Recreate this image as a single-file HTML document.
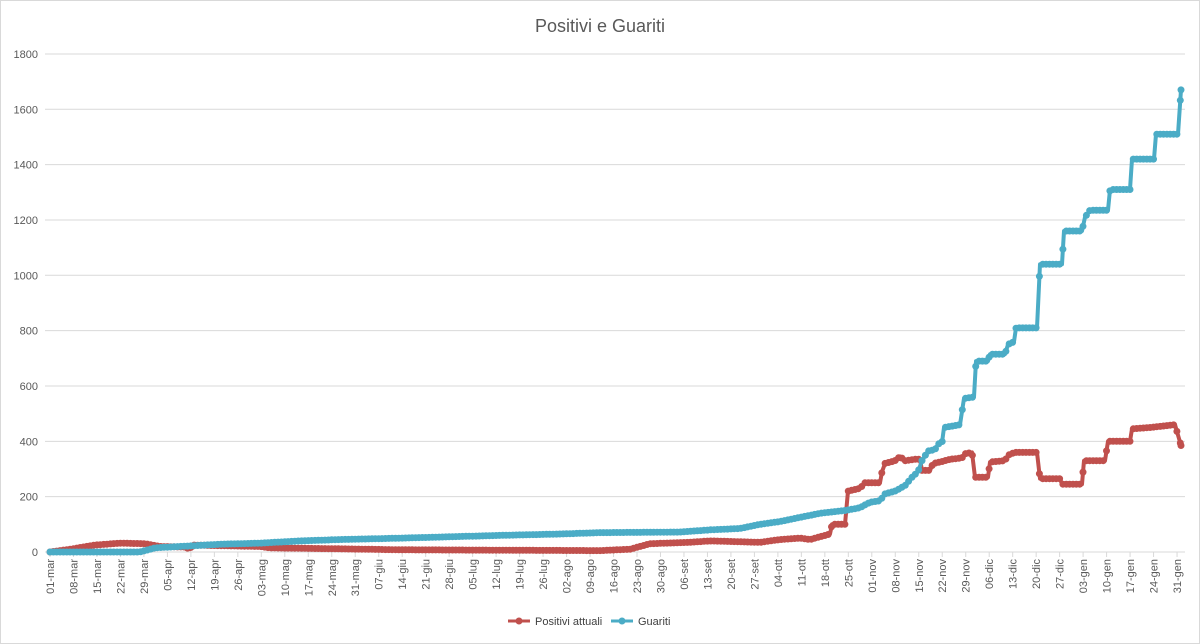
<!DOCTYPE html>
<html><head><meta charset="utf-8"><style>
body{margin:0;background:#fff;}
svg{display:block;font-family:"Liberation Sans",sans-serif;}
</style></head><body>
<svg id="c" width="1200" height="644" xmlns="http://www.w3.org/2000/svg">
<rect x="0.5" y="0.5" width="1199" height="643" fill="#fff" stroke="#d9d9d9"/>
<text x="600" y="32" text-anchor="middle" font-size="18" fill="#595959">Positivi e Guariti</text>
<g id="grid"></g>
<g id="xl" font-size="11" fill="#595959"></g>
<g id="ser"></g>
<g font-size="11" fill="#404040">
<line x1="508" y1="621" x2="530" y2="621" stroke="#c0504d" stroke-width="3"/><circle cx="519" cy="621" r="3.5" fill="#c0504d"/>
<text x="535" y="625">Positivi attuali</text>
<line x1="611" y1="621" x2="633" y2="621" stroke="#4bacc6" stroke-width="3"/><circle cx="622" cy="621" r="3.5" fill="#4bacc6"/>
<text x="638" y="625">Guariti</text>
</g>
</svg>
<script>
var NS="http://www.w3.org/2000/svg";
function el(t,a,p,txt){var e=document.createElementNS(NS,t);for(var k in a)e.setAttribute(k,a[k]);if(txt!==undefined)e.textContent=txt;p.appendChild(e);return e;}
function Y(v){return 552-v*0.2767;}
var g=document.getElementById('grid');
for(var v=0;v<=1800;v+=200){el('line',{x1:45,x2:1185,y1:Y(v),y2:Y(v),stroke:'#d9d9d9','stroke-width':1},g);
el('text',{x:38,y:Y(v)+4,'text-anchor':'end','font-size':11,fill:'#595959'},g,String(v));}
var labs=[];
var m=[["mar",[1,8,15,22,29]],["apr",[5,12,19,26]],["mag",[3,10,17,24,31]],["giu",[7,14,21,28]],["lug",[5,12,19,26]],["ago",[2,9,16,23,30]],["set",[6,13,20,27]],["ott",[4,11,18,25]],["nov",[1,8,15,22,29]],["dic",[6,13,20,27]],["gen",[3,10,17,24,31]]];
m.forEach(function(a){a[1].forEach(function(d){labs.push((d<10?"0":"")+d+"-"+a[0]);});});
var xl=document.getElementById('xl');
labs.forEach(function(s,i){var x=50+i*23.48;
el('line',{x1:x,x2:x,y1:552,y2:557,stroke:'#d9d9d9'},xl);
el('text',{x:0,y:0,'text-anchor':'end',transform:'translate('+(x+4)+',559) rotate(-90)'},xl,s);});
var blue=[[50,0],[140,0],[155,15],[180,20],[220,28],[260,32],[300,40],[340,45],[400,50],[450,55],[500,60],[560,65],[600,70],[680,72],[710,80],[740,85],[760,100],[780,110],[800,125],[820,140],[845,150],[860,160],[870,180],[880,185],[885,210],[895,220],[905,240],[912,270],[918,290],[922,330],[928,365],[935,370],[938,390],[942,395],[944,450],[960,460],[964,555],[974,560],[976,690],[988,690],[990,715],[1005,715],[1008,750],[1014,760],[1016,810],[1037,810],[1040,1040],[1062,1040],[1064,1160],[1082,1160],[1085,1210],[1090,1235],[1108,1235],[1110,1310],[1130,1310],[1132,1420],[1154,1420],[1156,1510],[1178,1510],[1181,1670]];
var red=[[50,0],[70,10],[95,25],[120,32],[145,30],[160,20],[185,18],[190,10],[192,25],[260,20],[270,15],[330,12],[400,8],[600,5],[630,10],[650,30],[690,35],[710,40],[760,35],[780,45],[800,50],[810,45],[820,55],[830,65],[832,100],[845,100],[848,220],[860,230],[865,250],[880,250],[882,290],[885,320],[895,330],[900,345],[905,330],[915,335],[920,335],[922,295],[930,295],[933,320],[940,325],[950,335],[962,340],[965,355],[972,360],[975,270],[988,270],[990,325],[1005,330],[1008,350],[1015,360],[1037,360],[1040,265],[1060,265],[1062,245],[1082,245],[1084,330],[1105,330],[1108,400],[1130,400],[1132,445],[1150,450],[1175,460],[1181,385]];
var ser=document.getElementById('ser');
function draw(pts,col){
 var d=pts.map(function(p){return p[0]+','+Y(p[1]).toFixed(1);}).join(' ');
 el('polyline',{points:d,fill:'none',stroke:col,'stroke-width':4,'stroke-linejoin':'round'},ser);
 for(var x=50;x<=1181;x+=3.354){
  for(var i=0;i<pts.length-1;i++){if(x>=pts[i][0]&&x<=pts[i+1][0]){var t=(x-pts[i][0])/(pts[i+1][0]-pts[i][0]||1);var v=pts[i][1]+t*(pts[i+1][1]-pts[i][1]);el('circle',{cx:x.toFixed(1),cy:Y(v).toFixed(1),r:3.5,fill:col},ser);break;}}
 }
 var l=pts[pts.length-1];el('circle',{cx:l[0],cy:Y(l[1]),r:3.5,fill:col},ser);
}
draw(red,'#c0504d');
draw(blue,'#4bacc6');
</script>
</body></html>
